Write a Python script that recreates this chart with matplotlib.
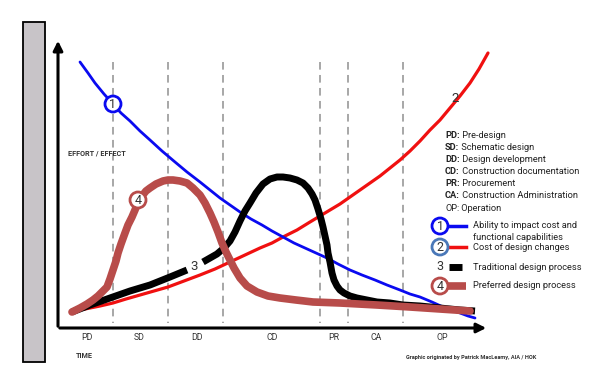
import matplotlib
matplotlib.use("Agg")
import matplotlib.pyplot as plt
from matplotlib.patches import Rectangle, Circle

# ---- data (chart coordinates: time along x, effort downwards in screen space) ----
phase_labels = ["PD", "SD", "DD", "CD", "PR", "CA", "OP"]
phase_label_x = [87, 139, 197, 272, 334, 376, 442]
phase_bounds = [113, 168, 223, 320, 348, 403]

blue_x = [80, 88, 95, 104, 113, 121, 130, 140, 150, 162, 175, 187, 200, 210, 220, 230, 240, 251, 262, 272, 283, 294, 305, 316, 327, 338, 350, 362, 375, 387, 400, 410, 420, 432, 443, 452, 460, 468, 475]
blue_y = [62, 73, 83, 94, 104, 113, 121, 131, 140, 151, 162, 172, 182, 190, 198, 205, 212, 219, 225, 231, 237, 243, 248, 253, 258, 264, 270, 275, 280, 285, 290, 294, 297, 302, 307, 310, 313, 316, 318]

red_x = [73, 80, 90, 100, 113, 126, 140, 154, 168, 184, 200, 215, 230, 245, 260, 272, 283, 297, 310, 320, 330, 340, 350, 360, 370, 380, 390, 400, 410, 420, 430, 440, 450, 460, 470, 479, 488]
red_y = [312, 310, 308, 306, 303, 299, 295, 291, 287, 281, 275, 269, 262, 255, 248, 243, 237, 230, 222, 216, 210, 204, 197, 190, 183, 176, 168, 160, 151, 141, 130, 120, 108, 96, 83, 69, 53]

black_a_x = [72, 90, 110, 130, 150, 170, 187]
black_a_y = [312, 305, 298, 291, 285, 277, 270]
black_b_x = [203, 210, 217, 224, 230, 235, 240, 245, 250, 256, 263, 270, 277, 283, 290, 297, 303, 308, 312, 315, 318, 321, 323, 325, 327, 328, 330, 332, 334, 337, 340, 344, 350, 357, 367, 377, 390, 403, 420, 440, 460, 475]
black_b_y = [262, 258, 254, 248, 241, 232, 221, 211, 203, 193, 184, 179, 177, 177, 178, 180, 183, 188, 194, 200, 209, 219, 227, 236, 245, 253, 262, 273, 280, 286, 290, 293, 296, 298, 300, 302, 303, 305, 306, 308, 310, 311]

brown_x = [72, 80, 87, 93, 98, 103, 107, 110, 113, 116, 118, 121, 125, 128, 132, 135, 138, 142, 146, 150, 156, 163, 168, 173, 180, 187, 193, 200, 205, 210, 214, 218, 222, 226, 230, 234, 240, 247, 257, 268, 280, 296, 313, 340, 377, 410, 440, 470]
brown_y = [312, 308, 304, 300, 296, 291, 287, 279, 270, 261, 253, 244, 233, 225, 217, 210, 202, 196, 191, 188, 184, 181, 180, 180, 181, 183, 188, 195, 203, 213, 222, 232, 243, 252, 260, 268, 278, 286, 292, 296, 298, 300, 302, 303, 305, 307, 309, 311]

glossary_abbr = ["PD:", "SD:", "DD:", "CD:", "PR:", "CA:", "OP:"]
glossary_text = ["Pre-design", "Schematic design", "Design development",
                 "Construction documentation", "Procurement",
                 "Construction Administration", "Operation"]

legend_texts = ["Ability to impact cost and", "functional capabilities",
                "Cost of design changes",
                "Traditional design process",
                "Preferred design process"]

BLUE = "#0a0af0"
RED = "#f01010"
BROWN = "#b84c4a"
STEEL = "#4a78b8"
FONT = ["Roboto", "DejaVu Sans"]
plt.rcParams["font.family"] = FONT

fig = plt.figure(figsize=(6.0, 3.77), dpi=100)
ax = fig.add_axes([0, 0, 1, 1])
ax.set_xlim(0, 600)
ax.set_ylim(377, 0)
ax.axis("off")

# gray bar at left
ax.add_patch(Rectangle((23, 22), 22, 340, facecolor="#c8c4c8", edgecolor="black", lw=1.3))

# dashed phase boundaries
for bx in phase_bounds:
    ax.plot([bx, bx], [62, 323], color="#909090", lw=1.1, ls=(0, (5, 3.5)), zorder=1)

# axes arrows
ax.annotate("", xy=(58, 38), xytext=(58, 329),
            arrowprops=dict(arrowstyle="-|>", color="black", lw=2.2, mutation_scale=14))
ax.annotate("", xy=(489, 328), xytext=(57, 328),
            arrowprops=dict(arrowstyle="-|>", color="black", lw=2.2, mutation_scale=14))

# curves
ax.plot(red_x, red_y, color=RED, lw=2.3, zorder=3, solid_capstyle="round", solid_joinstyle="round")
ax.plot(blue_x, blue_y, color=BLUE, lw=2.0, zorder=3, solid_capstyle="round", solid_joinstyle="round")
ax.plot(black_a_x, black_a_y, color="black", lw=5, zorder=4, solid_capstyle="butt", solid_joinstyle="round")
ax.plot(black_b_x, black_b_y, color="black", lw=5, zorder=4, solid_capstyle="butt", solid_joinstyle="round")
ax.plot(brown_x, brown_y, color=BROWN, lw=5.5, zorder=5, solid_capstyle="round", solid_joinstyle="round")

def circ_label(x, y, num, ec, z=6):
    ax.add_patch(Circle((x, y), 8, facecolor="white", edgecolor=ec, lw=2, zorder=z))
    ax.text(x, y + 0.5, num, ha="center", va="center", fontsize=9, color="#333333", zorder=z + 1)

circ_label(113, 104, "1", BLUE)
circ_label(138, 200, "4", BROWN)
ax.text(455, 98, "2", ha="center", va="center", fontsize=9.5, color="#333333", zorder=6)
ax.text(194, 266, "3", ha="center", va="center", fontsize=9.5, color="#333333", zorder=6)

# phase labels
for lab, lx in zip(phase_labels, phase_label_x):
    ax.text(lx, 338, lab, ha="center", va="center", fontsize=6.3, color="#333333")

ax.text(84, 356, "TIME", ha="center", va="center", fontsize=5.2, fontweight="bold", color="#333333")
ax.text(68, 153, "EFFORT / EFFECT", ha="left", va="center", fontsize=5.2, fontweight="bold", color="#333333")
ax.text(406, 358, "Graphic originated by Patrick MacLeamy, AIA / HOK", ha="left", va="center",
        fontsize=4.1, fontweight="bold", color="#333333")

# glossary
gy0, gdy = 135, 12.2
for i, (a, t) in enumerate(zip(glossary_abbr, glossary_text)):
    y = gy0 + i * gdy
    bold = a != "OP:"
    ta = ax.text(445, y, a, ha="left", va="center", fontsize=6.7, color="#222222",
                 fontweight="bold" if bold else "normal")
    ax.annotate(" " + t, xycoords=ta, xy=(1, 0.5), va="center", ha="left",
                fontsize=6.7, color="#222222")

# legend
lx_c, lx_t = 440, 473
circ_label(lx_c, 226, "1", BLUE)
ax.plot([448, 466], [226, 226], color=BLUE, lw=2.5)
ax.text(lx_t, 226, legend_texts[0], ha="left", va="center", fontsize=6.7, color="#222222")
ax.text(lx_t, 237, legend_texts[1], ha="left", va="center", fontsize=6.7, color="#222222")
circ_label(lx_c, 247, "2", STEEL)
ax.plot([448, 466], [247, 247], color=RED, lw=2.5)
ax.text(lx_t, 247, legend_texts[2], ha="left", va="center", fontsize=6.7, color="#222222")
ax.text(440, 267, "3", ha="center", va="center", fontsize=9, color="#333333")
ax.plot([449, 462], [267, 267], color="black", lw=5, solid_capstyle="butt")
ax.text(lx_t, 267, legend_texts[3], ha="left", va="center", fontsize=6.7, color="#222222")
circ_label(lx_c, 286, "4", BROWN)
ax.plot([448, 466], [286, 286], color=BROWN, lw=5.5, solid_capstyle="butt", zorder=5)
ax.text(lx_t, 286, legend_texts[4], ha="left", va="center", fontsize=6.7, color="#222222")

fig.savefig("out.png", dpi=100)
